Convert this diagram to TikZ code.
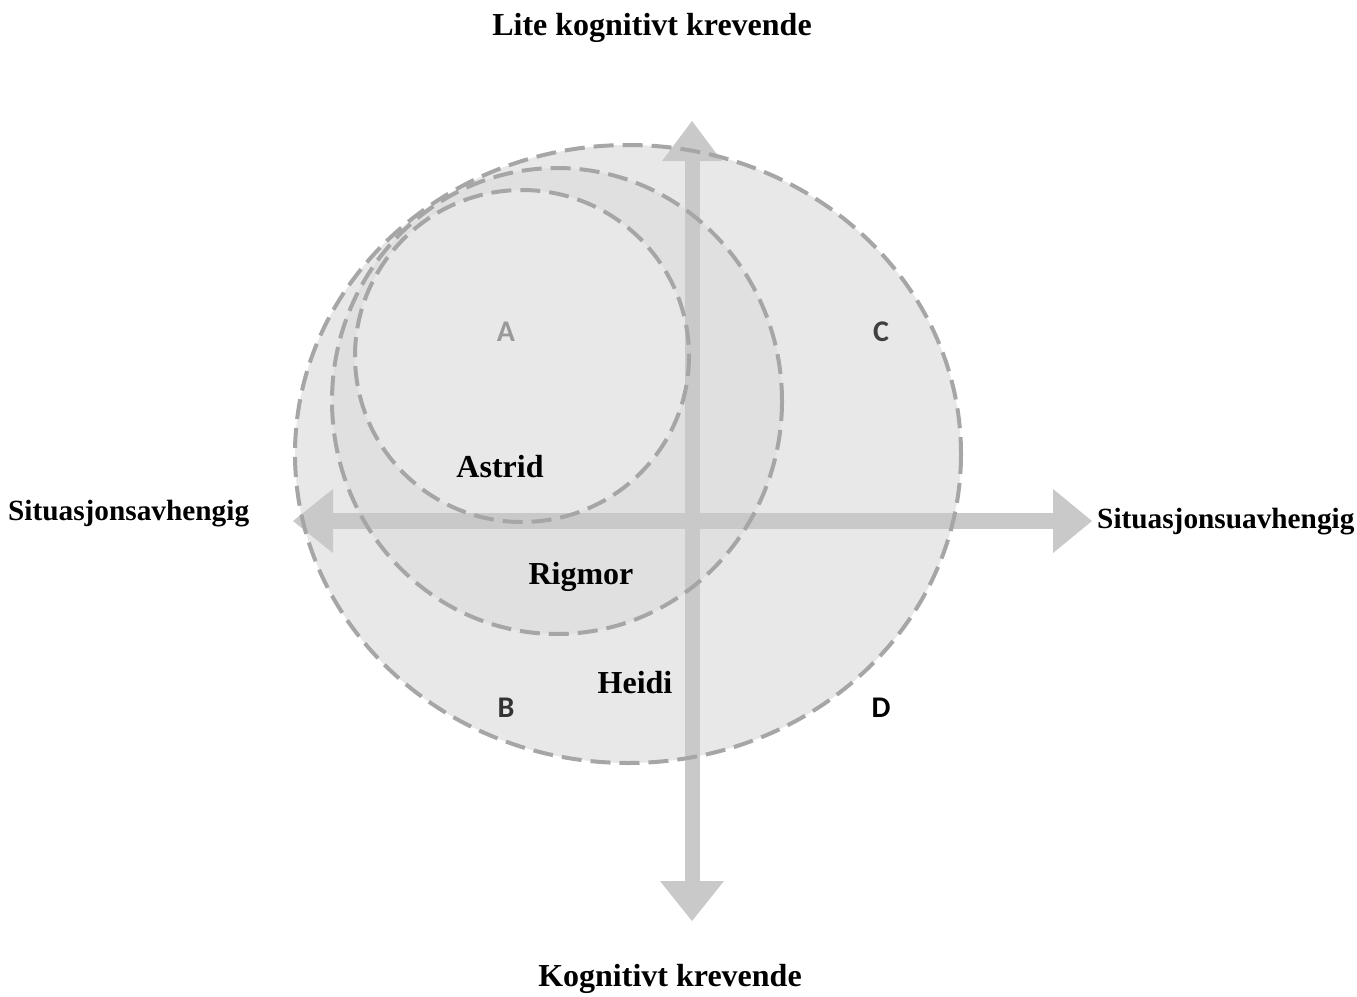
\documentclass[tikz,border=0pt]{standalone}
\usepackage{fontspec}
\setmainfont{Liberation Serif}
\newfontfamily\lettersfont{Carlito}
\begin{document}
\begin{tikzpicture}[x=1pt,y=-1pt,
  ring/.style={draw=black!35,line width=4pt,dash pattern=on 20pt off 9pt},
  axisbar/.style={fill=black!21,draw=none},
  axislabel/.style={font=\fontsize{32}{34}\selectfont\bfseries,inner sep=0pt},
  sidelabel/.style={font=\fontsize{29.3}{32}\selectfont\bfseries,inner sep=0pt,anchor=west},
  namelabel/.style={font=\fontsize{32}{34}\selectfont\bfseries,inner sep=0pt},
  quad/.style={font=\lettersfont\bfseries\fontsize{30}{32}\selectfont,inner sep=0pt}]
\useasboundingbox (0,0) rectangle (1357,996);
% filled regions
\fill[black!9] (628,454) ellipse [x radius=333,y radius=309];
\fill[black!12] (557,401) ellipse [x radius=225,y radius=233];
\fill[black!9] (522,356) ellipse [x radius=167,y radius=166];
% axes
\fill[axisbar] (685,161) rectangle (700,881);
\fill[axisbar] (333,513) rectangle (1053,529);
\fill[axisbar] (692,121) coordinate (top) -- (722,161) -- (662,161) -- cycle;
\fill[axisbar] (692,921) coordinate (bot) -- (724,881) -- (660,881) -- cycle;
\fill[axisbar] (293,521) coordinate (lft) -- (333,489) -- (333,553) -- cycle;
\fill[axisbar] (1092,521) coordinate (rgt) -- (1053,489) -- (1053,553) -- cycle;
% dashed outlines
\draw[ring] (628,454) ellipse [x radius=333,y radius=309];
\draw[ring] (557,401) ellipse [x radius=225,y radius=233];
\draw[ring] (522,356) ellipse [x radius=167,y radius=166];
% axis labels
\node[axislabel] (lk) at (652,28) {Lite kognitivt krevende};
\node[axislabel] (kk) at (670,979) {Kognitivt krevende};
\node[sidelabel] (sa) at (8,514) {Situasjonsavhengig};
\node[sidelabel] (su) at (1097,522) {Situasjonsuavhengig};
% quadrant letters
\node[quad,text=black!40] (qa) at (506,332) {A};
\node[quad,text=black!75] (qc) at (881,332) {C};
\node[quad,text=black!80] (qb) at (506,708) {B};
\node[quad,text=black] (qd) at (881,708) {D};
% names
\node[namelabel] (astrid) at (500,467) {Astrid};
\node[namelabel] (rigmor) at (581,577) {Rigmor};
\node[namelabel] (heidi) at (635,683) {Heidi};
\end{tikzpicture}
\end{document}
